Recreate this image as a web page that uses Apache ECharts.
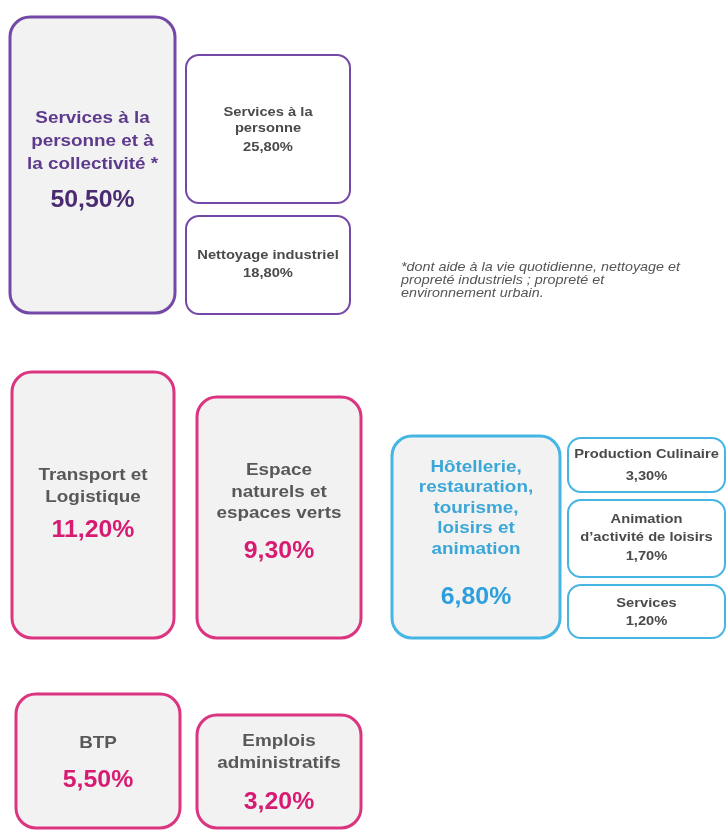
<!DOCTYPE html>
<html>
<head>
<meta charset="utf-8">
<title>Répartition des emplois</title>
<script src="https://cdn.jsdelivr.net/npm/echarts@6/dist/echarts.min.js"></script>
<style>
  html, body { margin: 0; padding: 0; background: #fff; }
  #chart { width: 727px; height: 832px; }
</style>
</head>
<body>
<div id="chart"></div>
<script>
// secteurs principaux
const groupTitles = [
  'Services à la\npersonne et à\nla collectivité *',
  'Transport et\nLogistique',
  'Espace\nnaturels et\nespaces verts',
  'Hôtellerie,\nrestauration,\ntourisme,\nloisirs et\nanimation',
  'BTP',
  'Emplois\nadministratifs'
]
const groupValues = [50.5, 11.2, 9.3, 6.8, 5.5, 3.2]

// sous-secteurs
const subTitles = [
  'Services à la\npersonne',
  'Nettoyage industriel',
  'Production Culinaire',
  'Animation\nd’activité de loisirs',
  'Services'
]
const subValues = [25.8, 18.8, 3.3, 1.7, 1.2]

const footnote = '*dont aide à la vie quotidienne, nettoyage et\npropreté industriels ; propreté et\nenvironnement urbain.'

// mise en page (positions des cases)
const groupBoxes = [
  { x: 10, y: 17, w: 165, h: 296, top: 107, lh: 23, vy: 201, theme: 'purple' },
  { x: 12, y: 372, w: 162, h: 266, top: 464, lh: 22, vy: 531, theme: 'pink' },
  { x: 197, y: 397, w: 164, h: 241, top: 460, lh: 21.5, vy: 552, theme: 'pink' },
  { x: 392, y: 436, w: 168, h: 202, top: 457, lh: 20.5, vy: 598, theme: 'blue' },
  { x: 16, y: 694, w: 164, h: 134, top: 733, lh: 21, vy: 781, theme: 'pink' },
  { x: 197, y: 715, w: 164, h: 113, top: 730, lh: 22, vy: 803, theme: 'pink' }
]
const subBoxes = [
  { x: 186, y: 55, w: 164, h: 148, top: 104, lh: 16, vy: 147, theme: 'purple' },
  { x: 186, y: 216, w: 164, h: 98, top: 247, lh: 16, vy: 273, theme: 'purple' },
  { x: 568, y: 438, w: 157, h: 54, top: 446, lh: 16, vy: 476, theme: 'blue' },
  { x: 568, y: 500, w: 157, h: 77, top: 510, lh: 18, vy: 556, theme: 'blue' },
  { x: 568, y: 585, w: 157, h: 53, top: 595, lh: 16, vy: 621, theme: 'blue' }
]

const themes = {
  purple: { stroke: '#7448a6', title: '#5e3a8c', value: '#4a2a70' },
  pink: { stroke: '#dc3580', title: '#585858', value: '#d81b72' },
  blue: { stroke: '#45b5e3', title: '#3aa7d8', value: '#2d9fdc' }
}
const FONT = '"Liberation Sans", Arial, sans-serif'

function fmt (v) {
  return v.toFixed(2).replace('.', ',') + '%'
}

// le texte de l'original est un peu étiré en largeur
function label (x, y, text, font, fill, stretch, extra) {
  return {
    type: 'text',
    x: x,
    scaleX: stretch,
    style: Object.assign({
      x: 0, y: y, text: text, align: 'center', verticalAlign: 'top', font: font, fill: fill
    }, extra || {})
  }
}

const graphic = []

groupTitles.forEach((title, i) => {
  const b = groupBoxes[i]
  const t = themes[b.theme]
  const cx = b.x + b.w / 2
  graphic.push({
    type: 'rect',
    shape: { x: b.x, y: b.y, width: b.w, height: b.h, r: 20 },
    style: { fill: '#f2f2f2', stroke: t.stroke, lineWidth: 3 }
  })
  graphic.push(label(cx, b.top, title, 'bold 17px ' + FONT, t.title, 1.11, { lineHeight: b.lh }))
  graphic.push(label(cx, b.vy, fmt(groupValues[i]), 'bold 23px ' + FONT, t.value, 1.08, { verticalAlign: 'middle' }))
})

subTitles.forEach((title, i) => {
  const b = subBoxes[i]
  const t = themes[b.theme]
  const cx = b.x + b.w / 2
  graphic.push({
    type: 'rect',
    shape: { x: b.x, y: b.y, width: b.w, height: b.h, r: 13 },
    style: { fill: '#ffffff', stroke: t.stroke, lineWidth: 2 }
  })
  graphic.push(label(cx, b.top, title, 'bold 13.5px ' + FONT, '#4a4a4a', 1.09, { lineHeight: b.lh }))
  graphic.push(label(cx, b.vy, fmt(subValues[i]), 'bold 13.5px ' + FONT, '#4a4a4a', 1.09, { verticalAlign: 'middle' }))
})

graphic.push({
  type: 'text',
  x: 401,
  scaleX: 1.12,
  style: {
    x: 0, y: 261, text: footnote, align: 'left', verticalAlign: 'top',
    lineHeight: 13, font: 'italic 12.8px ' + FONT, fill: '#555'
  }
})

const chart = echarts.init(document.getElementById('chart'))
chart.setOption({
  backgroundColor: '#ffffff',
  animation: false,
  graphic: graphic
})
window.addEventListener('resize', () => chart.resize())
</script>
</body>
</html>
